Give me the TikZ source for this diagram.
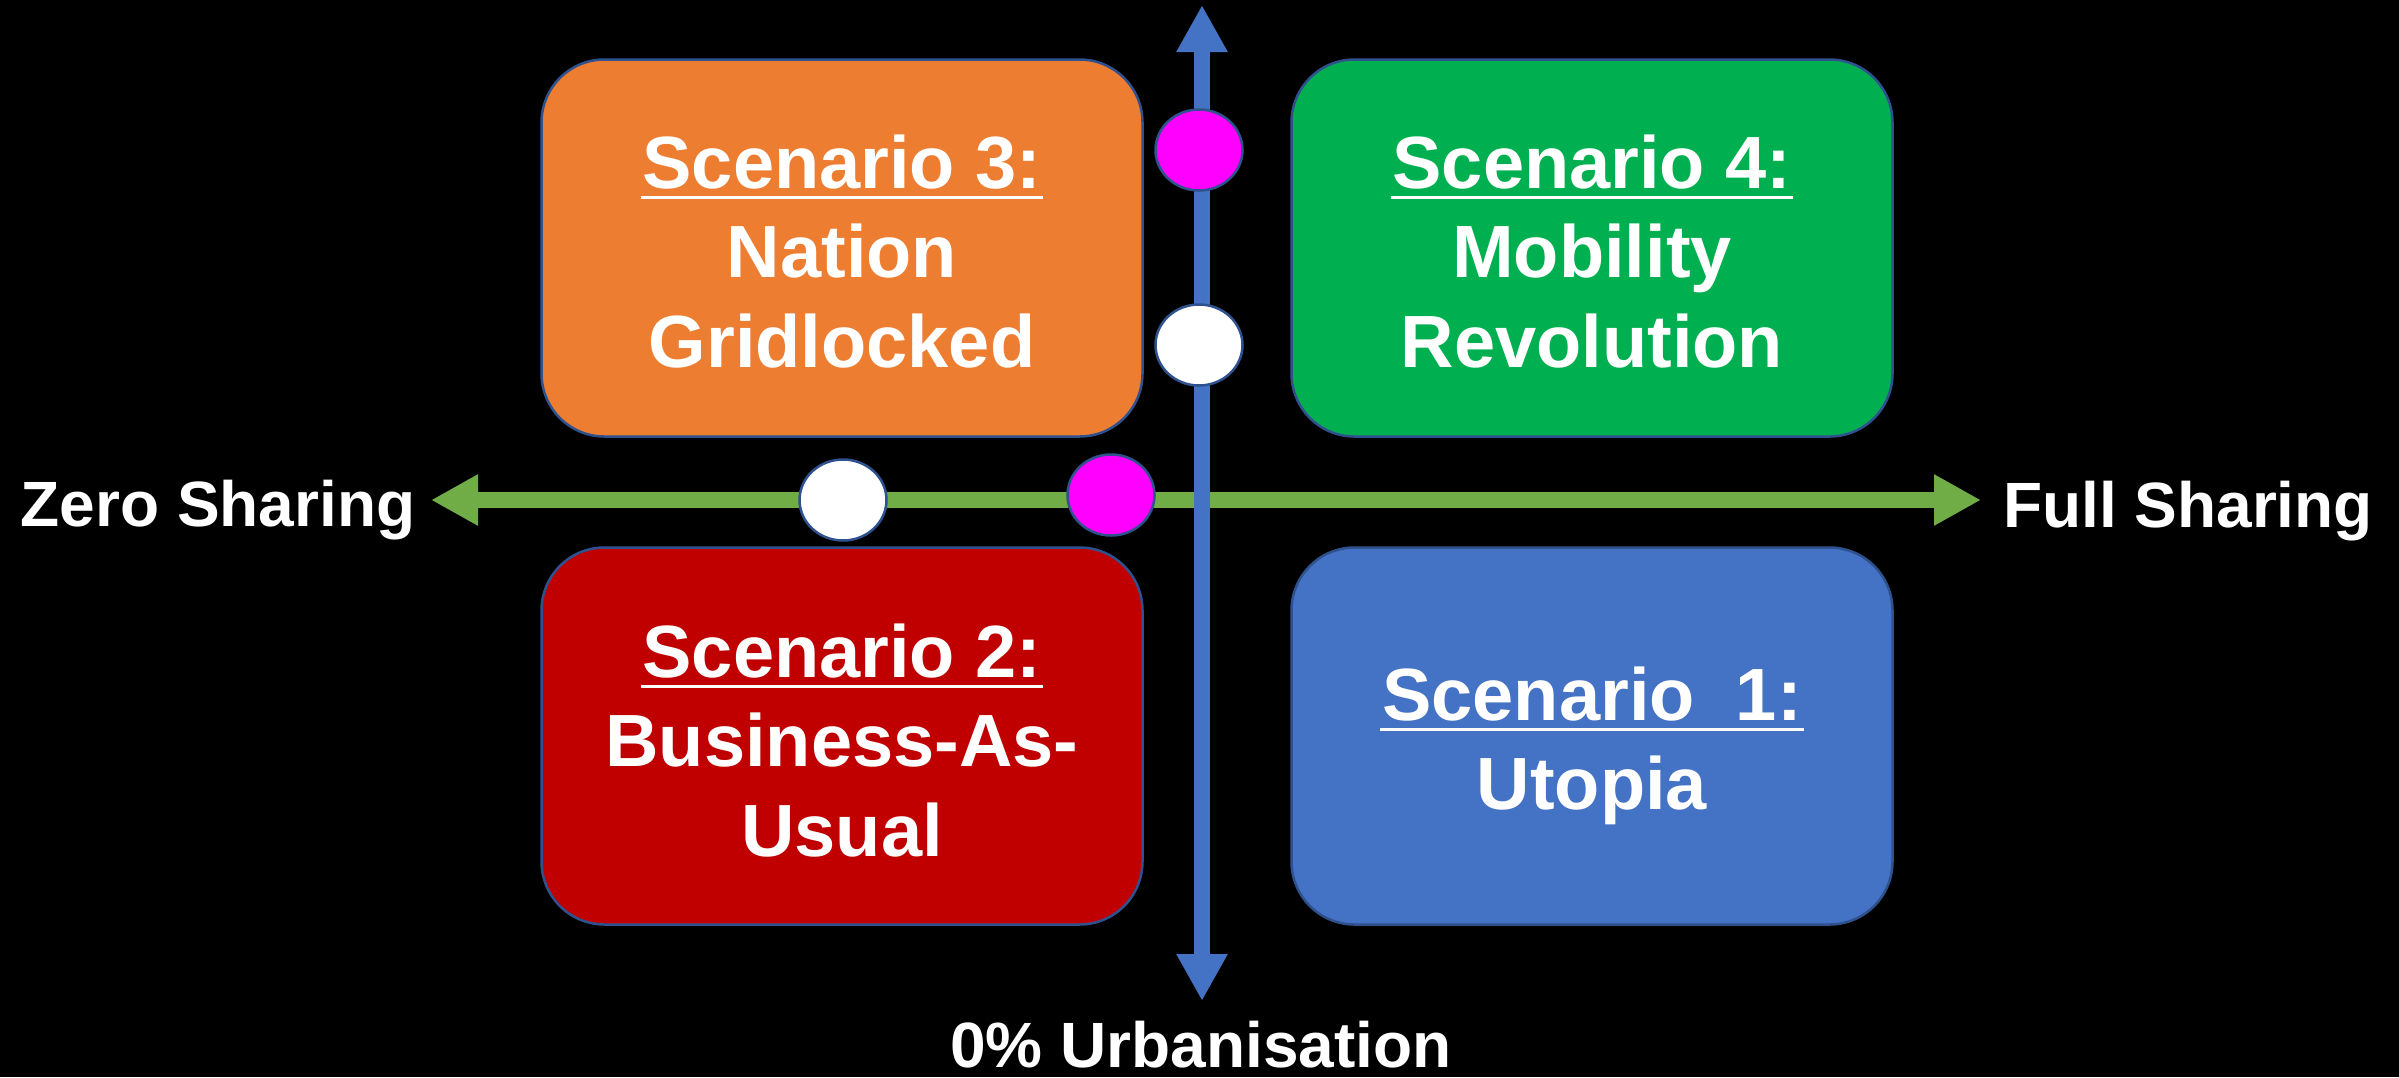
\documentclass[tikz,border=0pt]{standalone}
\usepackage{fontspec}
\setmainfont{Liberation Sans}
\usetikzlibrary{arrows.meta,shapes.geometric}
\definecolor{orng}{HTML}{ED7D31}
\definecolor{grn}{HTML}{00B050}
\definecolor{rd}{HTML}{C00000}
\definecolor{blu}{HTML}{4472C4}
\definecolor{mag}{HTML}{FF00FF}
\definecolor{grnax}{HTML}{70AD47}
\definecolor{edgeblue}{HTML}{2F528F}
\newcommand\ulx[1]{\setbox0\hbox{#1}\rlap{\hskip-2pt\rule[-10.5pt]{\dimexpr\wd0+4pt\relax}{3pt}}\box0}
\begin{document}
\begin{tikzpicture}[x=1pt,y=-1pt,
  quad/.style={draw=edgeblue, line width=2.5pt, rounded corners=63pt, minimum width=601pt, minimum height=377pt, inner sep=0pt},
  dot/.style={ellipse, draw=edgeblue, line width=2.5pt, minimum width=87pt, minimum height=81pt, inner sep=0pt},
  btxt/.style={text=white, align=center, inner sep=0pt, font=\fontsize{74}{89.5}\selectfont\bfseries},
  lbl/.style={text=white, inner sep=0pt, font=\fontsize{64}{70}\selectfont\bfseries}]
\fill[black] (0,0) rectangle (2399,1077);
\useasboundingbox (0,0) rectangle (2399,1077);
% axes
\coordinate (hl) at (431,500);
\coordinate (hr) at (1981,500);
\coordinate (vt) at (1202,5);
\coordinate (vb) at (1202,1001);
\draw[grnax, line width=16pt, {Triangle[length=47pt,width=48pt]}-{Triangle[length=47pt,width=48pt]}] (hl) -- (hr);
\draw[blu, line width=16pt, {Triangle[length=47pt,width=48pt]}-{Triangle[length=47pt,width=48pt]}] (vb) -- (vt);
% quadrants
\node[quad, fill=orng] (s3) at (842,248) {};
\node[quad, fill=grn]  (s4) at (1592,248) {};
\node[quad, fill=rd]   (s2) at (842,736) {};
\node[quad, fill=blu]  (s1) at (1592,736) {};
\node[btxt, anchor=north] (t3) at (842,128) {\rule{0pt}{60pt}\ulx{Scenario 3:}\\Nation\\Gridlocked};
\node[btxt, anchor=north] (t4) at (1592,128) {\rule{0pt}{60pt}\ulx{Scenario 4:}\\Mobility\\Revolution};
\node[btxt, anchor=north] (t2) at (842,617) {\rule{0pt}{60pt}\ulx{Scenario 2:}\\Business-As-\\Usual};
\node[btxt, anchor=north] (t1) at (1592,660) {\rule{0pt}{60pt}\ulx{Scenario\ \ 1:}\\Utopia};
% markers
\node[dot, fill=mag]   (m1) at (1199,150) {};
\node[dot, fill=white] (w1) at (1199,345) {};
\node[dot, fill=white] (w2) at (843,500) {};
\node[dot, fill=mag]   (m2) at (1111,495) {};
% axis labels
\node[lbl, anchor=base] (zs) at (218,526) {Zero Sharing};
\node[lbl, anchor=base] (fs) at (2188,527) {Full Sharing};
\node[lbl, anchor=base] (ur) at (1201,1067) {0\% Urbanisation};
\end{tikzpicture}
\end{document}
